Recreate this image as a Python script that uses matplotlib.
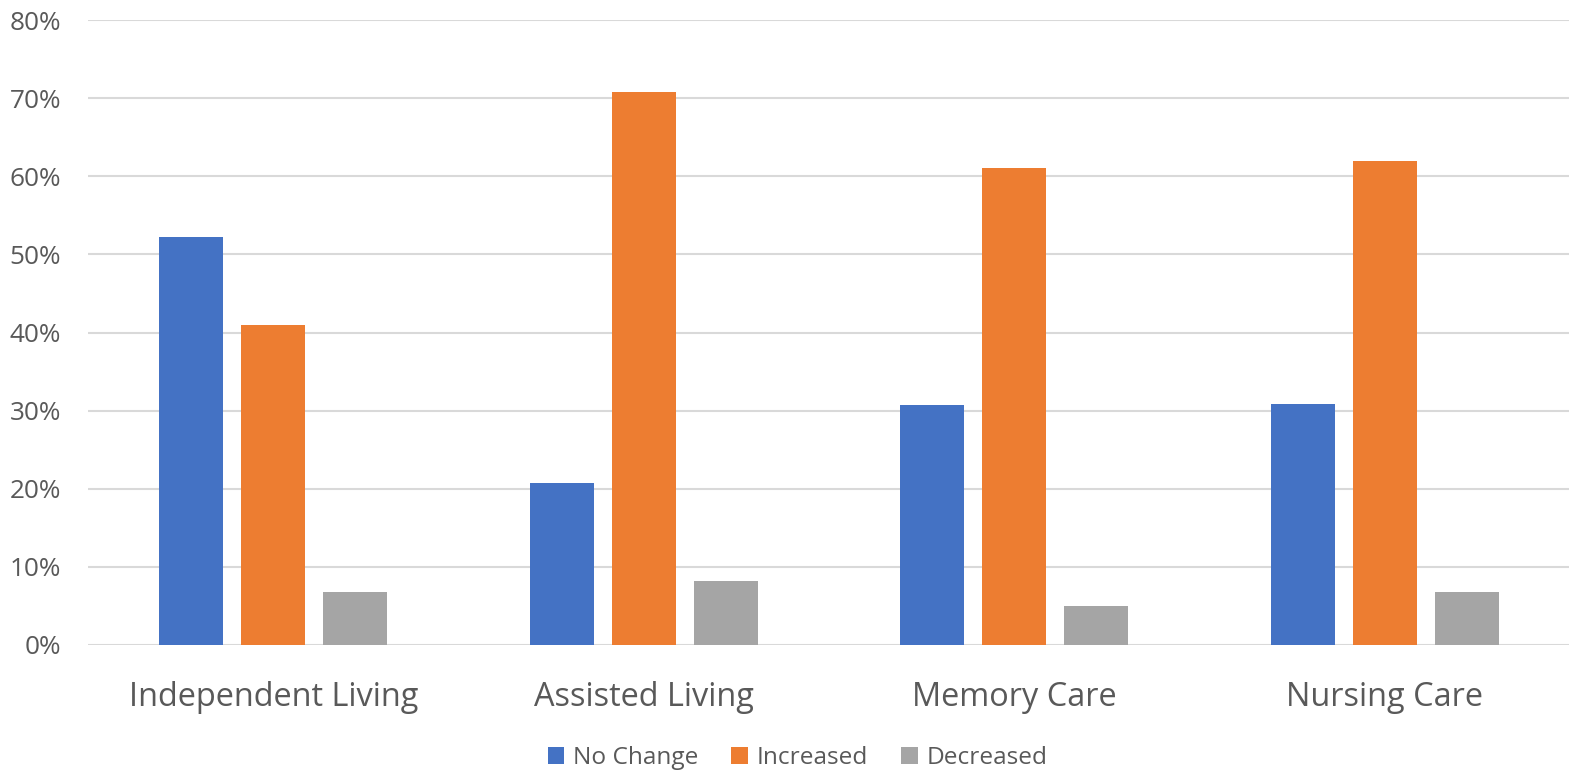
import matplotlib
matplotlib.use("Agg")
import matplotlib.pyplot as plt
import numpy as np
from matplotlib.ticker import FuncFormatter, MultipleLocator

categories = ["Independent Living", "Assisted Living", "Memory Care", "Nursing Care"]
series_names = ["No Change", "Increased", "Decreased"]
no_change = [52.2, 20.7, 30.7, 30.9]
increased = [40.9, 70.8, 61.0, 62.0]
decreased = [6.8, 8.2, 5.0, 6.8]
colors = ["#4472C4", "#ED7D31", "#A5A5A5"]

plt.rcParams["font.family"] = ["Open Sans", "DejaVu Sans"]
text_color = "#595959"

fig = plt.figure(figsize=(15.69, 7.74), dpi=100)
ax = fig.add_axes([88 / 1569, 1 - 645 / 774, 1482 / 1569, 625 / 774])

x = np.arange(len(categories))
width = 0.173
step = 0.221
for i, (vals, name, c) in enumerate(zip([no_change, increased, decreased], series_names, colors)):
    ax.bar(x + (i - 1) * step, vals, width, color=c, label=name, zorder=3)

ax.set_xlim(-0.5, len(categories) - 0.5)
ax.set_ylim(0, 80)
ax.yaxis.set_major_locator(MultipleLocator(10))
ax.yaxis.set_major_formatter(FuncFormatter(lambda v, p: f"{v:.0f}%"))
ax.grid(axis="y", color="#D9D9D9", linewidth=1.5, zorder=0)
ax.set_axisbelow(True)
for s in ax.spines.values():
    s.set_visible(False)
ax.tick_params(axis="y", length=0, pad=19.5, labelsize=18.8, labelcolor=text_color)
ax.set_xticks(x)
ax.set_xticklabels(categories)
ax.tick_params(axis="x", length=0, pad=26, labelsize=23.4, labelcolor=text_color)

fig.legend(loc="center", bbox_to_anchor=(797.5 / 1569, 1 - 758 / 774), ncol=3, frameon=False,
           fontsize=17.6, labelcolor=text_color, handlelength=0.68, handleheight=0.68,
           handletextpad=0.35, columnspacing=1.35)

fig.savefig("out.png", dpi=100, facecolor="white")
